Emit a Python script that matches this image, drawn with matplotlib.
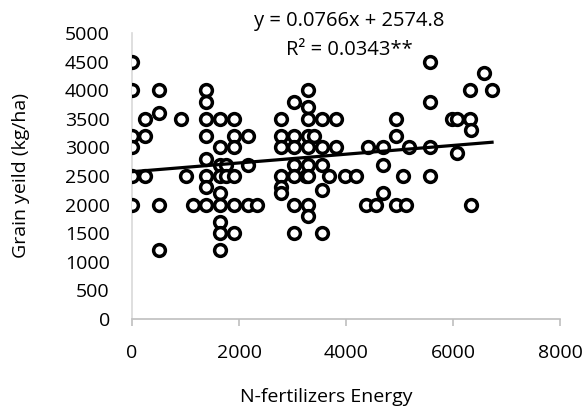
import numpy as np
import matplotlib
matplotlib.use("Agg")
import matplotlib.pyplot as plt

plt.rcParams["font.family"] = ["Open Sans", "DejaVu Sans"]

# ─── Data ────────────────────────────────────────────────────────────────────
energy = [
    0, 0, 0, 0, 0, 0,
    243, 243, 243,
    511, 511, 511, 511,
    916, 1009, 1134,
    1383, 1383, 1383, 1383, 1383, 1383, 1383, 1383,
    1645, 1645, 1645, 1645, 1645, 1645, 1645, 1645, 1645,
    1750, 1750,
    1900, 1900, 1900, 1900, 1900, 1900,
    2160, 2160, 2160,
    2330,
    2779, 2779, 2779, 2779, 2779, 2779,
    3020, 3020, 3020, 3020, 3020, 3020, 3020,
    3250,
    3296, 3296, 3296, 3296, 3296, 3296, 3296, 3296, 3296,
    3400,
    3545, 3545, 3545, 3545, 3545,
    3688,
    3813, 3813,
    3981, 4187, 4370, 4417, 4561,
    4685, 4685, 4685,
    4934, 4934, 4934,
    5059, 5130, 5180,
    5570, 5570, 5570, 5570,
    5975,
    6080, 6080,
    6310, 6310,
    6340, 6340,
    6580, 6730,
]
grain_yield = [
    4500, 4000, 3200, 3000, 2500, 2000,
    3500, 3200, 2500,
    4000, 3600, 2000, 1200,
    3500, 2500, 2000,
    4000, 3800, 3500, 3200, 2800, 2500, 2300, 2000,
    3500, 3000, 2700, 2500, 2200, 2000, 1700, 1500, 1200,
    2700, 2500,
    3500, 3200, 3000, 2500, 2000, 1500,
    3200, 2700, 2000,
    2000,
    3500, 3200, 3000, 2500, 2300, 2200,
    3800, 3200, 3000, 2700, 2500, 2000, 1500,
    2500,
    4000, 3700, 3500, 3200, 3000, 2700, 2500, 2000, 1800,
    3200,
    3500, 3000, 2700, 2250, 1500,
    2500,
    3500, 3000,
    2500, 2500, 2000, 3000, 2000,
    3000, 2700, 2200,
    3500, 3200, 2000,
    2500, 2000, 3000,
    4500, 3800, 3000, 2500,
    3500,
    3500, 2900,
    4000, 3500,
    3300, 2000,
    4300, 4000,
]

slope, intercept = 0.0766, 2574.8
r2_label = "R² = 0.0343**"
eq_label = "y = 0.0766x + 2574.8"

x_ticks = [0, 2000, 4000, 6000, 8000]
y_ticks = list(range(0, 5001, 500))

# ─── Plot ────────────────────────────────────────────────────────────────────
fig = plt.figure(figsize=(5.85, 4.08), dpi=100)
ax = fig.add_axes([132 / 585, 1 - 319 / 408, 428 / 585, 286 / 408])

ax.scatter(energy, grain_yield, s=72, facecolors="white",
           edgecolors="black", linewidths=2.5, zorder=3)

xl = np.array([min(energy), max(energy)])
ax.plot(xl, slope * xl + intercept, color="black", lw=2.3, zorder=4)

ax.set_xlim(0, 8000)
ax.set_ylim(0, 5000)
ax.set_xticks(x_ticks)
ax.set_yticks(y_ticks)

for side in ["top", "right"]:
    ax.spines[side].set_visible(False)
ax.spines["left"].set_color("#d9d9d9")
ax.spines["left"].set_linewidth(1.2)
ax.spines["bottom"].set_color("#bfbfbf")
ax.spines["bottom"].set_linewidth(1.2)

ax.tick_params(axis="x", direction="out", length=5, width=1.2,
               color="#bfbfbf", pad=13, labelsize=14, labelcolor="black")
ax.tick_params(axis="y", length=0, pad=16, labelsize=14, labelcolor="black")

fig.text(349 / 585, 1 - 21 / 408, eq_label, ha="center", va="center",
         fontsize=14.5)
fig.text(349 / 585, 1 - 50 / 408, r2_label, ha="center", va="center",
         fontsize=14.5)

fig.text(326 / 585, 1 - 397 / 408, "N-fertilizers Energy", ha="center",
         va="center", fontsize=14)
fig.text(21 / 585, 1 - 175 / 408, "Grain yeild (kg/ha)", ha="center",
         va="center", rotation=90, fontsize=14)

fig.savefig("out.png", dpi=100)
